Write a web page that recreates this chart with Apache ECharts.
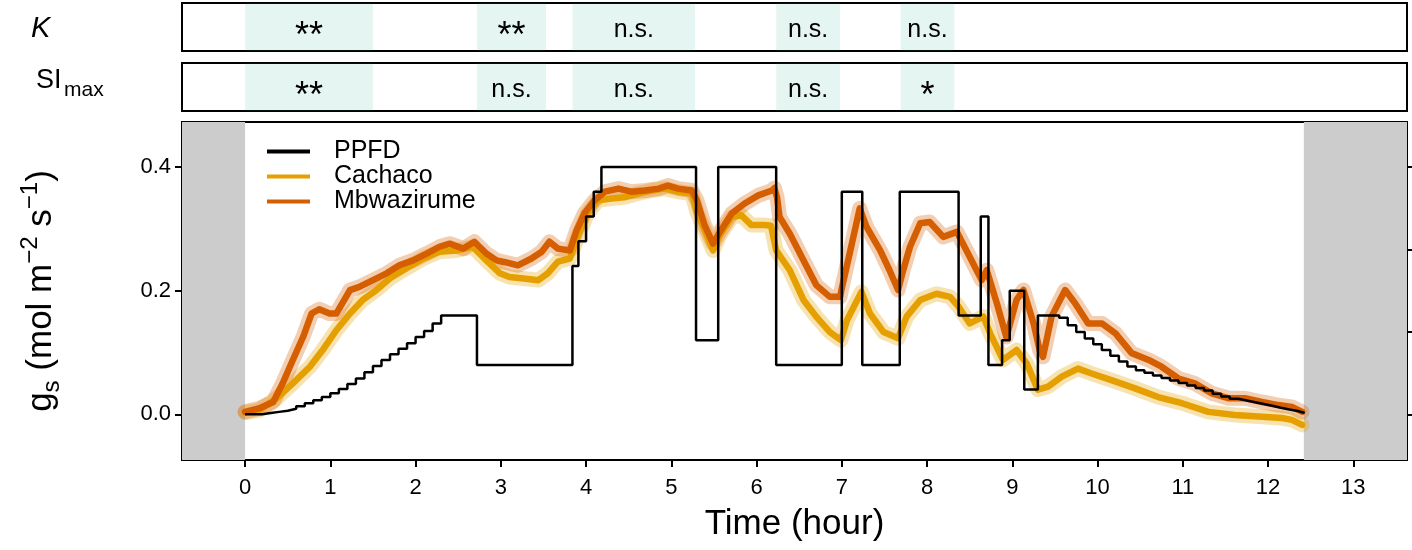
<!DOCTYPE html>
<html><head><meta charset="utf-8">
<script src="https://cdn.jsdelivr.net/npm/echarts@6/dist/echarts.min.js"></script>
<style>html,body{margin:0;padding:0;background:#fff}#c{width:1412px;height:550px}</style>
</head><body><div id="c"></div>
<script>
// ---------------- data ----------------
const xTicks = [0,1,2,3,4,5,6,7,8,9,10,11,12,13];
const yTicks = [0, 0.2, 0.4];
const ppfdTicks = [0, 500, 1000, 1500];

const mbwTime = [0,0.17,0.33,0.44,0.56,0.68,0.78,0.87,0.99,1.07,1.15,1.23,1.34,1.50,1.66,1.81,1.97,2.13,2.28,2.40,2.56,2.69,2.83,2.95,3.05,3.20,3.36,3.48,3.57,3.67,3.81,3.89,3.98,4.10,4.22,4.38,4.53,4.69,4.85,4.96,5.08,5.24,5.30,5.39,5.49,5.57,5.71,5.86,6.02,6.18,6.21,6.24,6.27,6.39,6.55,6.70,6.86,6.98,7.00,7.10,7.21,7.29,7.45,7.56,7.66,7.72,7.80,7.92,8.03,8.19,8.35,8.50,8.64,8.70,8.82,8.93,9.05,9.13,9.25,9.32,9.36,9.46,9.62,9.74,9.89,10.05,10.21,10.40,10.60,10.75,10.95,11.14,11.34,11.54,11.73,11.93,12.12,12.28,12.40];
const mbwGs   = [0.004,0.010,0.020,0.050,0.088,0.125,0.163,0.170,0.163,0.163,0.182,0.201,0.206,0.217,0.228,0.241,0.249,0.260,0.271,0.276,0.268,0.279,0.260,0.249,0.246,0.241,0.252,0.263,0.279,0.268,0.265,0.298,0.325,0.346,0.360,0.365,0.360,0.362,0.365,0.370,0.365,0.362,0.346,0.306,0.276,0.295,0.325,0.341,0.354,0.362,0.366,0.351,0.319,0.292,0.249,0.209,0.190,0.190,0.204,0.265,0.333,0.303,0.265,0.233,0.201,0.233,0.271,0.309,0.311,0.287,0.295,0.255,0.217,0.233,0.179,0.125,0.185,0.201,0.147,0.104,0.093,0.158,0.201,0.179,0.147,0.147,0.131,0.099,0.088,0.077,0.058,0.050,0.034,0.026,0.026,0.020,0.015,0.012,0.004];

const cacTime = [0,0.17,0.37,0.56,0.76,0.91,1.07,1.23,1.38,1.54,1.70,1.89,2.09,2.28,2.48,2.67,2.83,2.99,3.10,3.24,3.44,3.55,3.67,3.81,3.91,4.02,4.14,4.30,4.45,4.61,4.77,4.92,5.08,5.24,5.30,5.39,5.49,5.57,5.71,5.82,5.94,6.10,6.17,6.23,6.39,6.55,6.70,6.86,6.99,7.06,7.23,7.33,7.49,7.66,7.76,7.92,8.11,8.27,8.37,8.50,8.66,8.74,8.89,9.05,9.17,9.30,9.42,9.58,9.77,9.93,10.17,10.44,10.71,10.99,11.30,11.61,11.93,12.16,12.28,12.40];
const cacGs   = [0.003,0.007,0.026,0.050,0.077,0.104,0.136,0.163,0.185,0.201,0.220,0.236,0.252,0.263,0.265,0.271,0.249,0.228,0.222,0.220,0.217,0.228,0.247,0.252,0.290,0.325,0.346,0.349,0.351,0.357,0.362,0.365,0.360,0.357,0.327,0.298,0.265,0.290,0.319,0.322,0.306,0.306,0.305,0.265,0.233,0.185,0.158,0.133,0.120,0.152,0.198,0.163,0.133,0.123,0.158,0.185,0.195,0.190,0.174,0.147,0.158,0.131,0.088,0.104,0.082,0.040,0.045,0.061,0.074,0.066,0.055,0.042,0.028,0.018,0.004,-0.001,-0.004,-0.006,-0.009,-0.017];

// PPFD (umol m-2 s-1), each value holds from its time until the next time
const ppfdTime  = [0,0.2,0.3,0.4,0.5,0.6,0.7,0.8,0.9,1.0,1.1,1.2,1.3,1.4,1.5,1.6,1.7,1.8,1.9,2.0,2.1,2.2,2.3,2.72,3.84,3.91,4.00,4.09,4.18,5.29,5.55,6.23,7.00,7.24,7.68,8.37,8.63,8.72,8.88,8.97,9.14,9.30,9.55,9.65,9.75,9.85,9.95,10.05,10.15,10.25,10.35,10.45,10.55,10.65,10.75,10.85,10.95,11.05,11.15,11.25,11.35,11.45,11.55,11.65,11.75,11.85,11.95,12.05,12.15,12.25,12.35,12.42];
const ppfdValue = [0,8,15,22,34,49,68,86,105,128,154,184,218,255,293,330,364,398,431,469,506,551,600,300,900,1050,1200,1350,1500,450,1500,300,1350,300,1350,600,1200,300,450,750,150,600,585,540,500,460,425,390,355,320,290,268,252,236,220,205,190,175,160,145,125,108,95,84,73,63,52,40,30,20,10,5];

// significance panels
const sigStart = [0, 2.72, 3.84, 6.23, 7.69];
const sigEnd   = [1.50, 3.53, 5.28, 6.98, 8.32];
const kLabels  = ['**','**','n.s.','n.s.','n.s.'];
const siLabels = ['**','n.s.','n.s.','n.s.','*'];
const lightStart = 0, lightEnd = 12.42;

// ---------------- layout constants ----------------
const X_MIN = -0.74, X_MAX = 13.63;
const Y_MIN = -0.0738, Y_MAX = 0.4727;
const PPFD_PER_GS = 3750;
const FONT = 'Liberation Sans, Arial, sans-serif';
const C_MBW = '#D55E00', C_CAC = '#E69F00';

const zip = (a, b) => a.map((v, i) => [v, b[i]]);
const mbw = zip(mbwTime, mbwGs);
const cac = zip(cacTime, cacGs);
const ppfd = zip(ppfdTime, ppfdValue);

function sigAreas(labels) {
  return labels.map((lab, i) => {
    const star = lab.indexOf('*') >= 0;
    return [
      { xAxis: sigStart[i], name: lab,
        label: star ? { fontSize: 36, offset: [0, 10] } : { fontSize: 25, offset: [0, 3] } },
      { xAxis: sigEnd[i] }
    ];
  });
}

const chart = echarts.init(document.getElementById('c'), null, { renderer: 'canvas' });
const hiddenX = i => ({ gridIndex: i, type: 'value', min: X_MIN, max: X_MAX, show: false });
const hiddenY = i => ({ gridIndex: i, type: 'value', min: 0, max: 1, show: false });
const border = { show: true, borderColor: '#000', borderWidth: 2, backgroundColor: 'transparent' };

chart.setOption({
  animation: false,
  textStyle: { fontFamily: FONT, color: '#000' },
  grid: [
    Object.assign({ left: 182, right: 5, top: 3, height: 48 }, border),
    Object.assign({ left: 182, right: 5, top: 63, height: 48 }, border),
    Object.assign({ left: 182, right: 5, top: 122, height: 338 }, border)
  ],
  xAxis: [
    hiddenX(0), hiddenX(1),
    { gridIndex: 2, type: 'value', min: X_MIN, max: X_MAX,
      axisLine: { show: true, onZero: false, lineStyle: { color: '#000', width: 2 } },
      axisTick: { show: true, customValues: xTicks, length: 7, lineStyle: { color: '#000', width: 2 } },
      axisLabel: { customValues: xTicks, fontSize: 22, color: '#000', margin: 17, fontFamily: FONT },
      splitLine: { show: false },
      name: 'Time (hour)', nameLocation: 'middle', nameGap: 47,
      nameTextStyle: { fontSize: 35, color: '#000', fontFamily: FONT } }
  ],
  yAxis: [
    hiddenY(0), hiddenY(1),
    { gridIndex: 2, type: 'value', min: Y_MIN, max: Y_MAX,
      axisLine: { show: true, onZero: false, lineStyle: { color: '#000', width: 2 } },
      axisTick: { show: true, customValues: yTicks, length: 7, lineStyle: { color: '#000', width: 2 } },
      axisLabel: { customValues: yTicks, fontSize: 22, color: '#000', margin: 11, fontFamily: FONT,
                   formatter: v => Number(v).toFixed(1) },
      splitLine: { show: false },
      name: '{t|g}{sub|s}{t| (mol m}{sup|\u22122}{t| s}{sup|\u22121}{t|)}',
      nameLocation: 'middle', nameRotate: 90, nameGap: 118,
      nameTextStyle: { fontFamily: FONT, color: '#000',
        rich: {
          t:   { fontSize: 35, fontFamily: FONT, color: '#000', lineHeight: 46, verticalAlign: 'middle' },
          sub: { fontSize: 24, fontFamily: FONT, color: '#000', lineHeight: 25, verticalAlign: 'bottom' },
          sup: { fontSize: 24, fontFamily: FONT, color: '#000', lineHeight: 25, verticalAlign: 'top' }
        } } },
    { gridIndex: 2, type: 'value', position: 'right',
      min: Y_MIN * PPFD_PER_GS, max: Y_MAX * PPFD_PER_GS,
      axisLine: { show: true, onZero: false, lineStyle: { color: '#000', width: 2 } },
      axisTick: { show: true, customValues: ppfdTicks, length: 6, lineStyle: { color: '#000', width: 2 } },
      axisLabel: { show: false },
      splitLine: { show: false } }
  ],
  legend: {
    data: ['PPFD', 'Cachaco', 'Mbwazirume'],
    orient: 'vertical', left: 262, top: 134,
    icon: 'rect', itemWidth: 43, itemHeight: 4, itemGap: 0,
    textStyle: { fontSize: 25, color: '#000', lineHeight: 24, fontFamily: FONT, padding: [0, 0, 0, 19] }
  },
  graphic: [
    { type: 'text', left: 31, top: 14,
      style: { text: 'K', fontSize: 29, fontStyle: 'italic', fontFamily: FONT, fill: '#000' } },
    { type: 'text', left: 36, top: 67,
      style: { text: 'SI', fontSize: 27, fontFamily: FONT, fill: '#000' } },
    { type: 'text', left: 64, top: 80,
      style: { text: 'max', fontSize: 21, fontFamily: FONT, fill: '#000' } }
  ],
  series: [
    { name: 'sigK', type: 'line', xAxisIndex: 0, yAxisIndex: 0, data: [[X_MIN, -5]],
      showSymbol: false, lineStyle: { width: 0 }, silent: true,
      markArea: { silent: true, itemStyle: { color: 'rgba(0,158,115,0.1)' },
        label: { show: true, position: 'inside', color: '#000', fontFamily: FONT },
        data: sigAreas(kLabels) } },
    { name: 'sigSI', type: 'line', xAxisIndex: 1, yAxisIndex: 1, data: [[X_MIN, -5]],
      showSymbol: false, lineStyle: { width: 0 }, silent: true,
      markArea: { silent: true, itemStyle: { color: 'rgba(0,158,115,0.1)' },
        label: { show: true, position: 'inside', color: '#000', fontFamily: FONT },
        data: sigAreas(siLabels) } },
    { name: 'cacBand', type: 'line', xAxisIndex: 2, yAxisIndex: 2, data: cac,
      showSymbol: false, silent: true, z: 2,
      lineStyle: { color: C_CAC, width: 15, opacity: 0.3, cap: 'round', join: 'round' },
      markArea: { silent: true, itemStyle: { color: '#CCCCCC' },
        data: [[{ xAxis: X_MIN }, { xAxis: lightStart }], [{ xAxis: lightEnd }, { xAxis: X_MAX }]] } },
    { name: 'mbwBand', type: 'line', xAxisIndex: 2, yAxisIndex: 2, data: mbw,
      showSymbol: false, silent: true, z: 2,
      lineStyle: { color: C_MBW, width: 15, opacity: 0.3, cap: 'round', join: 'round' } },
    { name: 'Cachaco', type: 'line', xAxisIndex: 2, yAxisIndex: 2, data: cac, color: C_CAC,
      showSymbol: false, z: 3,
      lineStyle: { color: C_CAC, width: 6.5, cap: 'round', join: 'round' } },
    { name: 'Mbwazirume', type: 'line', xAxisIndex: 2, yAxisIndex: 2, data: mbw, color: C_MBW,
      showSymbol: false, z: 4,
      lineStyle: { color: C_MBW, width: 6.5, cap: 'round', join: 'round' } },
    { name: 'PPFD', type: 'line', xAxisIndex: 2, yAxisIndex: 3, data: ppfd, color: '#000',
      step: 'end', showSymbol: false, z: 5,
      lineStyle: { color: '#000', width: 2.5 } }
  ]
});
</script>
</body></html>
